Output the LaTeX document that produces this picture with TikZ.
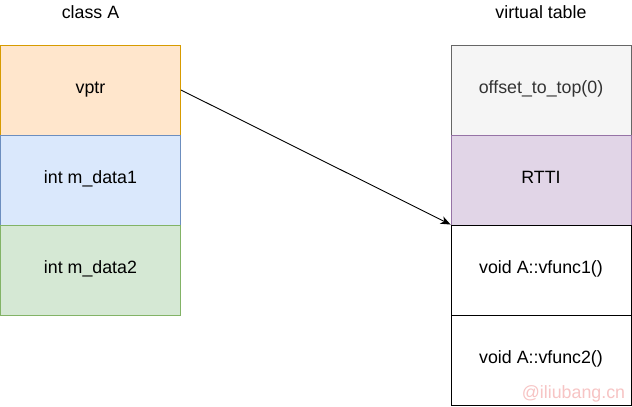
\documentclass[tikz,border=0pt]{standalone}
\usepackage{fontspec}
\setmainfont{Liberation Sans}
\usetikzlibrary{arrows.meta}
\definecolor{orfill}{HTML}{FFE6CC}\definecolor{ordraw}{HTML}{D79B00}
\definecolor{blfill}{HTML}{DAE8FC}\definecolor{bldraw}{HTML}{6C8EBF}
\definecolor{grfill}{HTML}{D5E8D4}\definecolor{grdraw}{HTML}{82B366}
\definecolor{gyfill}{HTML}{F5F5F5}\definecolor{gydraw}{HTML}{666666}\definecolor{gytext}{HTML}{333333}
\definecolor{pufill}{HTML}{E1D5E7}\definecolor{pudraw}{HTML}{9673A6}
\definecolor{wmark}{HTML}{F7C4C4}
\begin{document}
\begin{tikzpicture}[x=1pt,y=-1pt,
  txt/.style={font=\fontsize{17.8}{20}\selectfont,text height=11pt,text depth=4pt},
  cell/.style={txt,rectangle,minimum width=180pt,minimum height=90pt,inner sep=0pt,
    line width=0.9pt},
  title/.style={txt},
  link/.style={line width=0.9pt,-{Stealth[length=10pt,width=8pt,inset=3pt]}}]
\useasboundingbox (0,0) rectangle (632,407);
% object layout of class A
\node[title] (ta) at (90.5,15) {class A};
\node[cell,fill=orfill,draw=ordraw] (vptr) at (90.5,90) {vptr};
\node[cell,fill=blfill,draw=bldraw] (d1) at (90.5,180) {int m\_data1};
\node[cell,fill=grfill,draw=grdraw] (d2) at (90.5,270) {int m\_data2};
% virtual table
\node[title] (tv) at (541,15) {virtual table};
\node[cell,fill=gyfill,draw=gydraw,text=gytext] (off) at (541,90) {offset\_to\_top(0)};
\node[cell,fill=pufill,draw=pudraw] (rtti) at (541,180) {RTTI};
\node[cell,fill=white,draw=black] (vf1) at (541,270) {void A::vfunc1()};
\node[cell,fill=white,draw=black] (vf2) at (541,360) {void A::vfunc2()};
% vptr points at the first virtual function slot
\draw[link] (vptr.east) -- (vf1.north west);
% watermark
\node[txt,text=wmark] (wm) at (573.5,395) {@iliubang.cn};
\end{tikzpicture}
\end{document}
